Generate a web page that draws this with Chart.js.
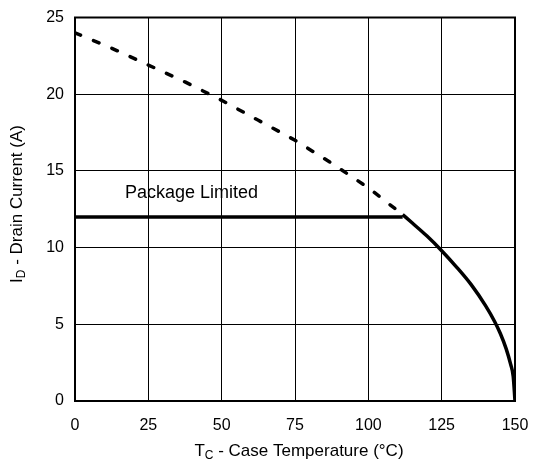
<!DOCTYPE html>
<html>
<head>
<meta charset="utf-8">
<script src="https://cdn.jsdelivr.net/npm/chart.js@4"></script>
<style>
  html, body { margin: 0; padding: 0; background: #fff; }
  #wrap { width: 533px; height: 464px; position: relative; }
</style>
</head>
<body>
<div id="wrap"><canvas id="chart"></canvas></div>
<script>
// ── Data ────────────────────────────────────────────────────────────────────
const dashT  = [0, 12.5, 25, 37.5, 50, 62.5, 75, 87.5, 100, 111.7];
const dashI  = [24, 23.0, 21.9, 20.8, 19.6, 18.3, 17.0, 15.5, 13.9, 12.15];

const limitT = [0, 111.7];
const limitI = [12, 12];

const curveT = [111.7, 115, 120, 125, 130, 135, 140, 143, 145, 147, 148.5, 149.4, 150];
const curveI = [12.15, 11.6, 10.75, 9.8, 8.75, 7.6, 6.2, 5.2, 4.4, 3.4, 2.4, 1.6, 0];

const xTicks = [0, 25, 50, 75, 100, 125, 150];
const yTicks = [0, 5, 10, 15, 20, 25];

const FONT = '"Liberation Sans", Arial, Helvetica, sans-serif';

const pts = (xs, ys) => xs.map((x, i) => ({ x, y: ys[i] }));

// ─ Frame, axis titles, label ─────────────────────────────────────────────────
const decor = {
  id: 'decor',
  afterDraw(chart) {
    const { ctx, chartArea: a, scales } = chart;
    ctx.save();
    ctx.strokeStyle = '#000';
    ctx.lineWidth = 2;
    ctx.strokeRect(a.left, a.top, a.right - a.left, a.bottom - a.top);

    ctx.fillStyle = '#000';
    ctx.textBaseline = 'middle';

    // title text with a subscript part
    const drawSub = (parts, cx, cy) => {
      let w = 0;
      parts.forEach(p => { ctx.font = p.sub ? `12px ${FONT}` : `17px ${FONT}`; w += ctx.measureText(p.t).width; });
      let x = cx - w / 2;
      ctx.textAlign = 'left';
      parts.forEach(p => {
        ctx.font = p.sub ? `12px ${FONT}` : `17px ${FONT}`;
        ctx.fillText(p.t, x, cy + (p.sub ? 5 : 0));
        x += ctx.measureText(p.t).width;
      });
    };
    drawSub([{ t: 'T' }, { t: 'C', sub: true }, { t: ' - Case Temperature (°C)' }], 299, 451);

    ctx.save();
    ctx.translate(17, 204);
    ctx.rotate(-Math.PI / 2);
    drawSub([{ t: 'I' }, { t: 'D', sub: true }, { t: ' - Drain Current (A)' }], 0, 0);
    ctx.restore();

    ctx.font = `18px ${FONT}`;
    ctx.textAlign = 'center';
    ctx.fillText('Package Limited', scales.x.getPixelForValue(39.7), scales.y.getPixelForValue(13.57));
    ctx.restore();
  }
};

new Chart(document.getElementById('chart'), {
  type: 'line',
  data: {
    datasets: [
      {
        data: pts(dashT, dashI),
        borderColor: '#000',
        borderWidth: 3.5,
        borderDash: [6, 14],
        borderCapStyle: 'round',
        pointRadius: 0,
        fill: false,
      },
      {
        data: pts(limitT, limitI),
        borderColor: '#000',
        borderWidth: 3.5,
        pointRadius: 0,
        fill: false,
      },
      {
        data: pts(curveT, curveI),
        borderColor: '#000',
        borderWidth: 3.5,
        pointRadius: 0,
        cubicInterpolationMode: 'monotone',
        fill: false,
      },
    ]
  },
  options: {
    responsive: true,
    maintainAspectRatio: false,
    animation: false,
    layout: { padding: { left: 0, top: 17.5, right: 18, bottom: 0 } },
    plugins: { legend: { display: false }, tooltip: { enabled: false } },
    scales: {
      x: {
        type: 'linear',
        min: 0, max: 150,
        afterBuildTicks: s => { s.ticks = xTicks.map(v => ({ value: v })); },
        afterFit: s => { s.height = 63; s.paddingLeft = 0; s.paddingRight = 0; },
        grid: { color: '#000', lineWidth: 1, drawTicks: false },
        border: { display: false },
        ticks: { color: '#000', font: { family: FONT, size: 16 }, padding: 15, maxRotation: 0 }
      },
      y: {
        min: 0, max: 25,
        afterBuildTicks: s => { s.ticks = yTicks.map(v => ({ value: v })); },
        afterFit: s => { s.width = 75; s.paddingTop = 0; s.paddingBottom = 0; },
        grid: { color: '#000', lineWidth: 1, drawTicks: false },
        border: { display: false },
        ticks: { color: '#000', font: { family: FONT, size: 16 }, padding: 11 }
      }
    }
  },
  plugins: [decor]
});
</script>
</body>
</html>
